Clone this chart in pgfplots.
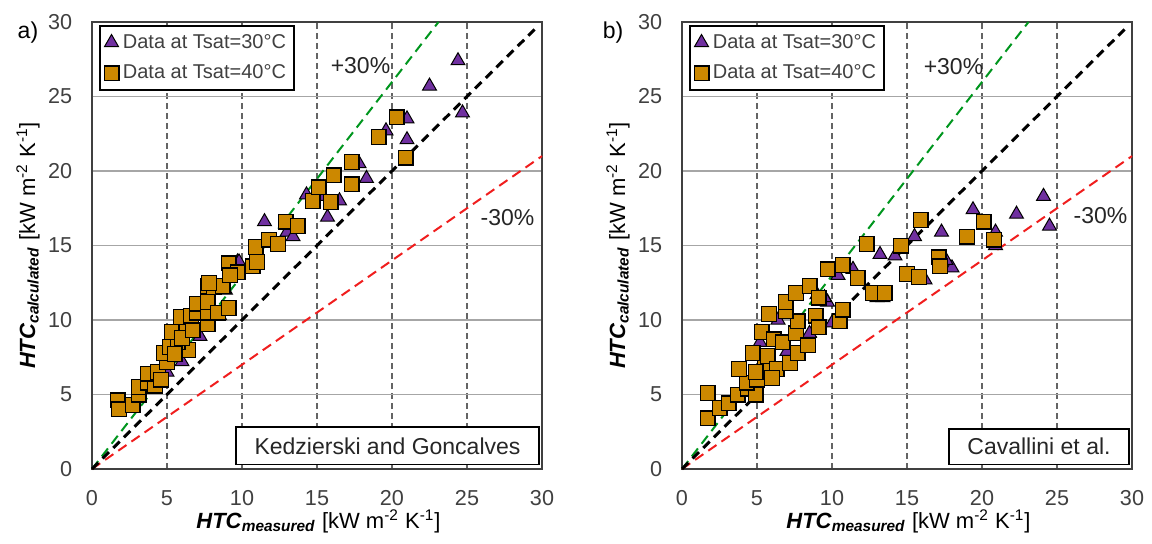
\documentclass[border=0pt]{standalone}
\usepackage{fontspec}
\setmainfont{Liberation Sans}
\usepackage{pgfplots}
\usepackage{pgfplotstable}
\pgfplotsset{compat=1.18}

\definecolor{sqfill}{RGB}{204,136,0}
\definecolor{trifill}{RGB}{112,48,160}
\definecolor{tickgray}{RGB}{64,64,64}
\definecolor{gridgray}{RGB}{166,166,166}
\definecolor{vgray}{RGB}{100,100,100}
\definecolor{lgreen}{RGB}{0,150,30}
\definecolor{lred}{RGB}{240,30,30}

% panel a) Kedzierski and Goncalves
\pgfplotstableread{
x y
5.7 7.5
6.0 7.2
5.0 6.5
7.2 8.9
8.5 10.3
8.9 12.0
9.7 13.9
9.8 13.9
11.5 16.6
13.0 15.9
13.4 15.6
14.3 18.4
15.4 18.3
15.7 16.9
16.5 18.0
17.8 20.5
18.3 19.5
19.6 22.7
21.0 23.5
21.0 22.1
22.5 25.7
24.4 27.4
24.7 23.9
}\Atri
\pgfplotstableread{
x y
1.7 4.6
1.8 4.0
2.7 4.3
3.1 5.0
3.1 5.5
3.7 5.8
4.2 5.6
3.7 6.4
4.4 6.5
4.6 6.0
5.0 7.2
4.8 7.8
5.2 8.2
5.7 8.2
6.4 8.0
5.7 8.5
5.3 9.2
6.3 9.3
6.0 8.8
5.5 7.7
5.9 10.2
6.6 10.3
6.7 9.3
7.0 10.5
7.0 11.1
7.7 9.7
7.7 10.5
7.7 11.2
8.4 10.5
9.1 10.8
7.7 12.3
8.1 12.2
8.7 12.3
7.8 12.5
9.1 13.8
9.7 13.2
10.7 13.6
9.2 13.0
10.9 14.9
11.0 13.9
11.8 15.4
12.4 15.1
12.9 16.6
13.7 16.3
14.7 18.0
15.1 18.9
15.9 17.9
16.1 19.7
17.3 20.6
17.3 19.1
19.1 22.3
20.3 23.6
20.9 20.9
}\Asq

% panel b) Cavallini et al.
\pgfplotstableread{
x y
4.5 5.4
5.2 8.5
5.9 6.8
6.4 10.0
7.0 7.9
7.6 11.6
8.5 9.1
9.0 11.7
9.7 11.2
9.5 11.5
10.0 9.8
10.4 13.0
11.4 13.4
13.0 11.5
13.4 11.5
13.2 14.4
14.2 14.3
15.5 15.6
16.2 12.7
17.3 15.9
18.0 13.5
17.6 14.0
19.4 17.4
20.9 15.9
20.9 15.0
22.3 17.1
24.1 18.3
24.5 16.3
}\Btri
\pgfplotstableread{
x y
1.7 5.1
1.7 3.4
2.5 4.1
3.1 4.4
3.7 5.0
4.4 5.4
4.9 5.0
4.3 5.8
5.0 6.0
5.5 7.0
3.8 6.7
4.9 6.5
5.7 7.6
4.7 7.8
6.3 6.7
6.0 6.1
7.2 7.1
7.7 7.8
5.3 9.2
6.1 8.7
6.7 8.5
7.6 9.1
8.4 8.3
5.8 10.4
7.7 9.9
6.9 10.6
6.9 11.2
8.9 10.3
9.1 9.5
7.6 11.8
8.5 12.3
9.1 11.5
9.7 13.4
10.7 13.7
11.7 12.8
10.5 9.9
10.7 10.7
12.3 15.1
12.7 11.8
13.5 11.8
14.6 15.0
15.0 13.1
15.8 12.9
15.9 16.7
17.1 14.2
17.2 13.6
19.0 15.6
20.1 16.6
20.8 15.4
}\Bsq

\pgfplotsset{
  htc/.style={
    scale only axis, width=225pt, height=223.5pt,
    xmin=0, xmax=30, ymin=0, ymax=30,
    xtick={0,5,...,30}, ytick={0,5,...,30},
    major tick length=0pt,
    xmajorgrids, ymajorgrids,
    x grid style={vgray, line width=0.6pt, dash pattern=on 3pt off 2pt},
    y grid style={gridgray, line width=0.8pt},
    axis line style={tickgray, line width=0.8pt},
    /pgf/number format/assume math mode=true,
    tick label style={font=\fontsize{10.8}{13}\selectfont, text=tickgray},
    xticklabel style={yshift=-7.4pt},
    yticklabel style={xshift=-6.4pt},
    legend style={at={(rel axis cs:0.016,0.993)}, anchor=north west,
      draw=black, line width=0.9pt, font=\fontsize{10}{12}\selectfont,
      text=tickgray, row sep=3pt, inner xsep=2pt, inner ysep=2pt},
    legend cell align=left,
    clip=false,
  },
  tri/.style={only marks, mark=triangle*, mark size=4pt,
    mark options={fill=trifill, draw=black, line width=0.5pt}},
  sq/.style={only marks, mark=square*, mark size=3.7pt,
    mark options={fill=sqfill, draw=black, line width=0.6pt}},
  ref1/.style={black, line width=1.5pt, dash pattern=on 4.5pt off 3pt, forget plot},
  ref2/.style={line width=1pt, dash pattern=on 5pt off 3pt, forget plot},
}

\newcommand{\ylab}{\textbf{\textit{HTC}}\textsubscript{\textbf{\textit{calculated}}} [kW m\textsuperscript{-2} K\textsuperscript{-1}]}
\newcommand{\xlab}{\textbf{\textit{HTC}}\textsubscript{\textbf{\textit{measured}}} [kW m\textsuperscript{-2} K\textsuperscript{-1}]}

\begin{document}
\begin{tikzpicture}
\path[use as bounding box] (0,0) rectangle (576pt,271.5pt);

\begin{axis}[htc, at={(46pt,37pt)}, anchor=south west]
\addplot[ref2, lgreen] coordinates {(0,0) (23.1,30)};
\addplot[ref2, lred] coordinates {(0,0) (30,21)};
\addplot[ref1] coordinates {(0,0) (29.5,29.5)};
\addplot[tri] table {\Atri};
\addplot[sq] table {\Asq};
\legend{Data at Tsat=30°C, Data at Tsat=40°C}
\draw[black, line width=0.8pt, fill=white] (axis cs:9.6,0.3) rectangle (axis cs:29.8,2.8);
\node[font=\fontsize{11.5}{13}\selectfont, text=black!85] at (axis cs:19.7,1.55) {Kedzierski and Goncalves};
\node[font=\fontsize{11.5}{13}\selectfont, text=black!85] at (axis cs:17.9,27.1) {+30\%};
\node[font=\fontsize{11.5}{13}\selectfont, text=black!85] at (axis cs:27.7,16.9) {-30\%};
\node[font=\fontsize{11}{13}\selectfont, rotate=90] at (axis cs:-4.27,15) {\ylab};
\node[font=\fontsize{11}{13}\selectfont] at (axis cs:15.1,-3.5) {\xlab};
\node[font=\fontsize{11.5}{13}\selectfont] at (axis cs:-4.27,29.3) {a)};
\end{axis}

\begin{axis}[htc, at={(341pt,37pt)}, anchor=south west]
\addplot[ref2, lgreen] coordinates {(0,0) (23.1,30)};
\addplot[ref2, lred] coordinates {(0,0) (30,21)};
\addplot[ref1] coordinates {(0,0) (29.5,29.5)};
\addplot[tri] table {\Btri};
\addplot[sq] table {\Bsq};
\legend{Data at Tsat=30°C, Data at Tsat=40°C}
\draw[black, line width=0.8pt, fill=white] (axis cs:17.8,0.3) rectangle (axis cs:29.8,2.7);
\node[font=\fontsize{11.5}{13}\selectfont, text=black!85] at (axis cs:23.8,1.5) {Cavallini et al.};
\node[font=\fontsize{11.5}{13}\selectfont, text=black!85] at (axis cs:18.1,27.0) {+30\%};
\node[font=\fontsize{11.5}{13}\selectfont, text=black!85] at (axis cs:27.9,17.0) {-30\%};
\node[font=\fontsize{11}{13}\selectfont, rotate=90] at (axis cs:-4.27,15) {\ylab};
\node[font=\fontsize{11}{13}\selectfont] at (axis cs:15.1,-3.5) {\xlab};
\node[font=\fontsize{11.5}{13}\selectfont] at (axis cs:-4.6,29.3) {b)};
\end{axis}
\end{tikzpicture}
\end{document}
